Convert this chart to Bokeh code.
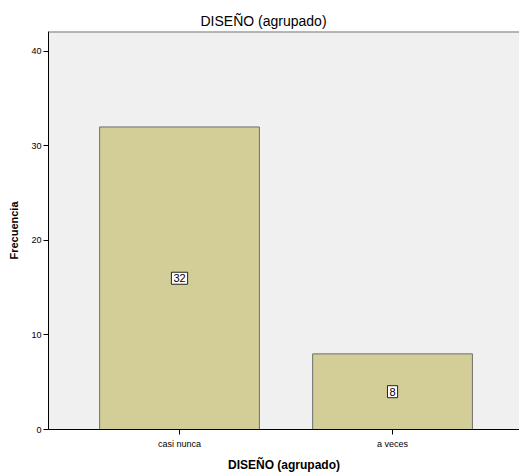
from bokeh.plotting import figure
from bokeh.models import Range1d, FixedTicker, ColumnDataSource, Label, Span
from bokeh.embed import file_html
from bokeh.resources import INLINE

categories = ["casi nunca", "a veces"]
counts = [32, 8]
y_ticks = [0, 10, 20, 30, 40]

xs = [i + 0.5 for i in range(len(categories))]
src = ColumnDataSource(dict(x=xs, top=counts))

p = figure(width=519, height=476, output_backend="svg", toolbar_location=None,
           x_range=Range1d(-0.115, 2.096), y_range=Range1d(0, 42.1),
           min_border_left=48, min_border_right=0, min_border_top=31, min_border_bottom=47)

p.title.text = "DISEÑO (agrupado)"
p.title.align = "left"
p.title.text_font = "Liberation Sans"
p.title.text_font_size = "14px"
p.title.text_font_style = "normal"
p.title.text_color = "black"
p.title.offset = 152
p.title.standoff = 5

p.background_fill_color = "#F0F0F0"
p.border_fill_color = "white"
p.outline_line_color = None
p.grid.visible = False

p.add_layout(Span(location=p.y_range.end, dimension="width", line_color="#777777",
                  line_width=2))

p.vbar(x="x", top="top", width=0.75, source=src, fill_color="#D3CE97",
       line_color="#6E6E6E", line_width=1)

for x, c in zip(xs, counts):
    lab = Label(x=x, y=c / 2, text=str(c), text_align="center",
                text_baseline="middle", text_font="Liberation Sans", text_font_size="11px",
                text_color="black", background_fill_color="white",
                border_line_color="#222222", border_line_width=1)
    try:
        lab.padding = 2
    except Exception:
        pass
    p.add_layout(lab)

p.xaxis.ticker = FixedTicker(ticks=xs)
p.xaxis.major_label_overrides = {x: c for x, c in zip(xs, categories)}
p.yaxis.ticker = FixedTicker(ticks=y_ticks)
for ax in (p.xaxis, p.yaxis):
    ax.axis_line_color = "black"
    ax.major_tick_line_color = "black"
    ax.major_tick_out = 5
    ax.major_tick_in = 0
    ax.minor_tick_line_color = None
    ax.major_label_text_font = "Liberation Sans"
    ax.major_label_text_font_size = "9px"
    ax.major_label_text_color = "black"
    ax.axis_label_text_font = "Liberation Sans"
    ax.axis_label_text_font_style = "bold"
    ax.axis_label_text_color = "black"
p.xaxis.axis_label = "DISEÑO (agrupado)"
p.xaxis.axis_label_text_font_size = "12px"
p.xaxis.major_label_standoff = 4
p.xaxis.axis_label_standoff = 6
p.yaxis.axis_label = "Frecuencia"
p.yaxis.axis_label_text_font_size = "11px"
p.yaxis.major_label_standoff = 2
p.yaxis.axis_label_standoff = 8

open("out.html", "w").write(file_html(p, INLINE))
